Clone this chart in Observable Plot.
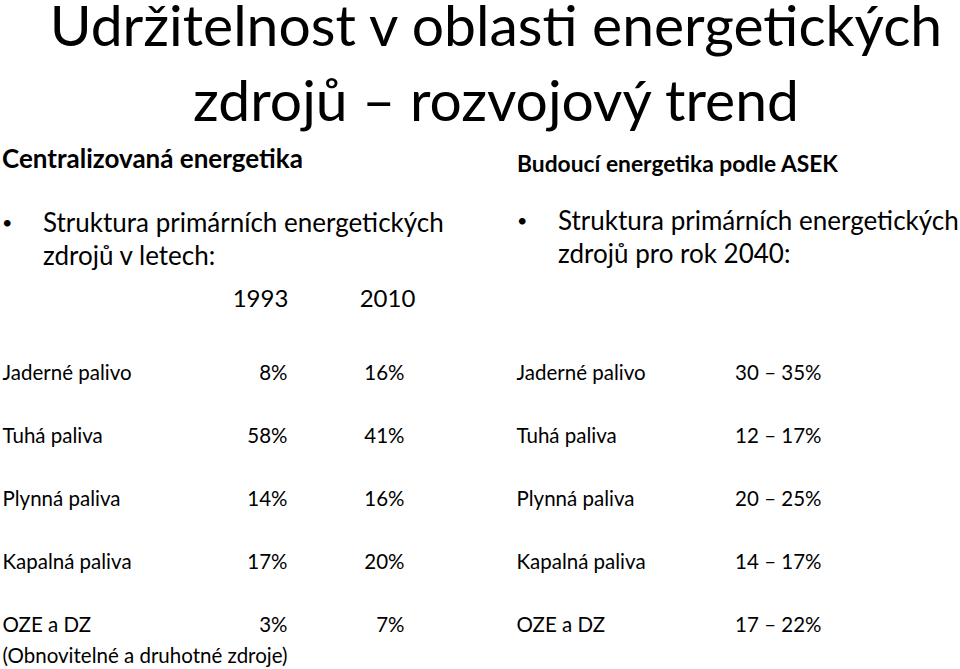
<!DOCTYPE html>
<html>
<head>
<meta charset="utf-8">
<script src="https://cdn.jsdelivr.net/npm/d3@7"></script>
<script src="https://cdn.jsdelivr.net/npm/@observablehq/plot@0.6"></script>
<style>
  body { margin: 0; background: #fff; color: #000; font-family: Lato, "Open Sans", sans-serif; }
  #page { position: relative; width: 960px; height: 669px; overflow: hidden; background: #fff; }
  .abs { position: absolute; white-space: nowrap; }
  #title { left: 16px; top: -13px; width: 960px; text-align: center; font-size: 57px; line-height: 75px; }
  .bul { font-size: 26px; line-height: 33px; }
  .dot { font-size: 18px; line-height: 18px; }
  #chart { position: absolute; left: 0; top: 280px; }
</style>
</head>
<body>
<div id="page">
  <div id="title" class="abs">Udržitelnost v oblasti energetických<br>zdrojů – rozvojový trend</div>
  <div class="abs" style="left:2px; top:145px; font-weight:bold; font-size:26px; line-height:26px;">Centralizovaná energetika</div>
  <div class="abs" style="left:517px; top:152px; font-weight:bold; font-size:22.8px; line-height:23px;">Budoucí energetika podle ASEK</div>
  <div class="abs dot" style="left:2px; top:213px;">•</div>
  <div class="abs bul" style="left:43px; top:206px;">Struktura primárních energetických<br>zdrojů v letech:</div>
  <div class="abs dot" style="left:517px; top:211px;">•</div>
  <div class="abs bul" style="left:558px; top:204px;">Struktura primárních energetických<br>zdrojů pro rok 2040:</div>
  <div id="chart"></div>
</div>
<script>
// Data
const sources = ["Jaderné palivo", "Tuhá paliva", "Plynná paliva", "Kapalná paliva", "OZE a DZ"];
const years = [1993, 2010];
const values1993 = [8, 58, 14, 17, 3];
const values2010 = [16, 41, 16, 20, 7];
const low2040 = [30, 12, 20, 14, 17];
const high2040 = [35, 17, 25, 17, 22];
const ozeNote = "(Obnovitelné a druhotné zdroje)";

// Layout (column anchors in page pixels)
const colX = { label: 2, c1993: 287, c2010: 404, label2: 516, c2040: 821 };
const yearX = [260, 387];

const rows = sources.map((s, i) => ({
  source: s, v1993: values1993[i], v2010: values2010[i], lo: low2040[i], hi: high2040[i]
}));

const fs = 20.5;
const chart = Plot.plot({
  width: 960,
  height: 389,
  margin: 0,
  style: { fontFamily: "Lato, 'Open Sans', sans-serif", background: "#fff", color: "#000", fontSize: fs + "px" },
  x: { domain: [0, 960], range: [0, 960], axis: null },
  y: { type: "point", domain: sources, range: [93, 345], padding: 0, axis: null },
  marks: [
    Plot.text(years, { x: (d, i) => yearX[i], frameAnchor: "top", lineAnchor: "top", dy: 9, text: d => String(d), fontSize: 24, textAnchor: "middle", fill: "#000" }),
    Plot.text(rows, { x: colX.label, y: "source", text: "source", textAnchor: "start", fontSize: fs, fill: "#000" }),
    Plot.text(rows, { x: colX.c1993, y: "source", text: d => d.v1993 + "%", textAnchor: "end", fontSize: fs, fill: "#000" }),
    Plot.text(rows, { x: colX.c2010, y: "source", text: d => d.v2010 + "%", textAnchor: "end", fontSize: fs, fill: "#000" }),
    Plot.text(rows, { x: colX.label2, y: "source", text: "source", textAnchor: "start", fontSize: fs, fill: "#000" }),
    Plot.text(rows, { x: colX.c2040, y: "source", text: d => `${d.lo} – ${d.hi}%`, textAnchor: "end", fontSize: fs, fill: "#000" }),
    Plot.text([ozeNote], { x: colX.label, y: () => sources[4], dy: 31, text: d => d, textAnchor: "start", fontSize: fs, fill: "#000" })
  ]
});
document.getElementById("chart").appendChild(chart);
</script>
</body>
</html>
